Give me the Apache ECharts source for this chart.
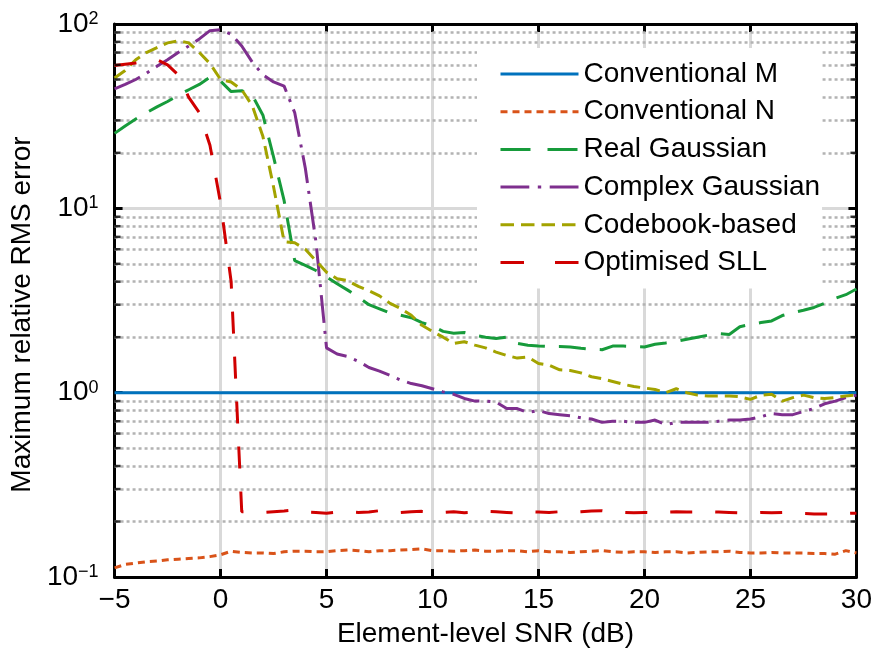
<!DOCTYPE html>
<html><head><meta charset="utf-8">
<script src="https://cdn.jsdelivr.net/npm/echarts@6/dist/echarts.min.js"></script>
<style>html,body{margin:0;padding:0;background:#fff}#c{width:875px;height:653px}</style>
</head><body><div id="c"></div><script>
// ---- data ----
const snr = [-5,-4.5,-4,-3.5,-3,-2.5,-2,-1.5,-1,-0.5,0,0.5,1,1.5,2,2.5,3,3.5,4,4.5,5,5.5,6,6.5,7,7.5,8,8.5,9,9.5,10,10.5,11,11.5,12,12.5,13,13.5,14,14.5,15,15.5,16,16.5,17,17.5,18,18.5,19,19.5,20,20.5,21,21.5,22,22.5,23,23.5,24,24.5,25,25.5,26,26.5,27,27.5,28,28.5,29,29.5,30];
const conventionalMSnr = [-5, 30];
const conventionalM = [1.0, 1.0];
const conventionalN = [0.112,0.117,0.119,0.121,0.122,0.124,0.125,0.126,0.127,0.129,0.132,0.138,0.136,0.135,0.135,0.134,0.137,0.138,0.138,0.137,0.137,0.139,0.140,0.139,0.137,0.139,0.139,0.140,0.141,0.142,0.139,0.139,0.138,0.139,0.140,0.138,0.138,0.139,0.139,0.137,0.139,0.137,0.137,0.136,0.137,0.138,0.139,0.137,0.136,0.137,0.137,0.136,0.137,0.137,0.135,0.136,0.137,0.137,0.138,0.136,0.135,0.135,0.136,0.135,0.135,0.135,0.134,0.134,0.133,0.139,0.135];
const realGaussian = [25.5,28,30.5,33,35.5,38,41,44,47,51.5,49,43,43.5,41,32,19,11,5.2,4.9,4.6,4.25,3.9,3.6,3.3,3.0,2.85,2.7,2.63,2.55,2.4,2.3,2.15,2.1,2.12,2.05,2.0,1.97,2.0,1.85,1.81,1.79,1.78,1.78,1.77,1.74,1.72,1.71,1.79,1.79,1.78,1.77,1.83,1.86,1.9,1.95,2.0,2.05,2.09,2.07,2.28,2.35,2.4,2.45,2.62,2.72,2.8,2.9,3.05,3.25,3.4,3.65];
const complexGaussian = [44.5,47,50,54,59,64,70,76,83,92,93,88,76,62,53,48.5,46,33,16.5,6.6,1.75,1.62,1.57,1.48,1.37,1.31,1.24,1.17,1.12,1.09,1.05,1.01,0.98,0.93,0.9,0.9,0.89,0.82,0.82,0.78,0.8,0.77,0.76,0.75,0.73,0.72,0.69,0.7,0.7,0.69,0.69,0.71,0.67,0.69,0.69,0.69,0.69,0.7,0.71,0.71,0.72,0.74,0.77,0.76,0.76,0.79,0.82,0.87,0.9,0.94,0.97];
const codebookBased = [51,56,64,70,74.5,79,81,79,70,61,50,48.5,44,36,24.5,13.1,6.6,6.5,6.0,5.2,4.5,4.15,4.05,3.77,3.57,3.35,3.05,2.86,2.63,2.32,2.15,2.0,1.85,1.89,1.81,1.75,1.66,1.59,1.54,1.56,1.44,1.41,1.33,1.32,1.28,1.22,1.19,1.15,1.11,1.08,1.06,1.04,1.0,1.05,1.0,0.97,0.96,0.96,0.96,0.95,0.92,0.97,0.98,0.9,0.94,0.97,0.94,0.93,0.94,0.96,0.97];
const optimisedSLL = [59.5,60.5,61.5,63,64,60,53,40,33,22,10.7,4.0,0.226,0.226,0.224,0.226,0.228,0.231,0.225,0.224,0.222,0.225,0.226,0.224,0.225,0.229,0.226,0.224,0.226,0.227,0.225,0.224,0.226,0.223,0.225,0.227,0.226,0.224,0.222,0.226,0.225,0.224,0.226,0.224,0.226,0.228,0.229,0.225,0.224,0.223,0.224,0.223,0.225,0.226,0.225,0.225,0.226,0.225,0.224,0.223,0.222,0.224,0.223,0.224,0.222,0.221,0.220,0.220,0.220,0.221,0.222];
const seriesNames = ['Conventional M','Conventional N','Real Gaussian','Complex Gaussian','Codebook-based','Optimised SLL'];
const xTicks = {min: -5, max: 30, step: 5};
const yRange = {min: 0.1, max: 100};
const minorTickValues = [0.2,0.3,0.4,0.5,0.6,0.7,0.8,0.9,2,3,4,5,6,7,8,9,20,30,40,50,60,70,80,90];

// ---- styles ----
const FONT = 'Liberation Sans, Arial, Helvetica, sans-serif';
const colors = ['#0072BD','#D95319','#179B3B','#7E2F8E','#A3A300','#D00000'];
const plotDash = ['solid',[7,5],[27,14],[28,8,3,8],[13,7],[22,23]];
const legendDash = ['solid',[7,5],[30,17],[28.8,8.5,3.4,8.5],[13.5,7],[23.5,31]];

const pair = (xs, ys) => xs.map((x, i) => [x, ys[i]]);
const axisLine = {show: true, onZero: false, lineStyle: {color: '#000', width: 3}};
const axisTick = {show: true, inside: true, length: 8, lineStyle: {color: '#000', width: 3}};

function lineSeries(i, xs, ys) {
  return {
    name: seriesNames[i], type: 'line', data: pair(xs, ys), showSymbol: false, symbol: 'none',
    lineStyle: {color: colors[i], width: 3, type: plotDash[i], cap: 'butt'}, itemStyle: {color: colors[i]},
    z: 2, animation: false, silent: true
  };
}

const chart = echarts.init(document.getElementById('c'), null, {renderer: 'canvas'});
chart.setOption({
  animation: false,
  backgroundColor: '#fff',
  textStyle: {fontFamily: FONT},
  grid: {left: 113, right: 17, top: 24, bottom: 76},
  legend: {
    orient: 'vertical', left: 477, top: 48, padding: [12, 2, 12, 22],
    backgroundColor: '#fff', itemWidth: 78, itemHeight: 3, itemGap: 9.7,
    selectedMode: false,
    data: seriesNames.map((n, i) => ({
      name: n,
      lineStyle: {color: colors[i], width: 3, type: legendDash[i]},
      itemStyle: {color: 'rgba(0,0,0,0)', borderWidth: 0, opacity: 0}
    })),
    textStyle: {fontSize: 28, fontFamily: FONT, color: '#000', lineHeight: 28}
  },
  xAxis: [{
    type: 'value', min: xTicks.min, max: xTicks.max, interval: xTicks.step, position: 'bottom',
    axisLine, axisTick,
    axisLabel: {margin: 9, fontSize: 28, fontFamily: FONT, color: '#000',
      formatter: v => v < 0 ? '\u2212' + Math.abs(v) : String(v)},
    splitLine: {show: true, lineStyle: {color: '#d9d9d9', width: 3}},
    name: 'Element-level SNR (dB)', nameLocation: 'middle', nameGap: 43,
    nameTextStyle: {fontSize: 28, fontFamily: FONT, color: '#000'}
  }, {
    type: 'value', min: xTicks.min, max: xTicks.max, interval: xTicks.step, position: 'top',
    axisLine, axisTick, axisLabel: {show: false}, splitLine: {show: false}
  }],
  yAxis: [{
    type: 'log', logBase: 10, min: yRange.min, max: yRange.max, interval: 1, position: 'left',
    axisLine, axisTick,
    axisLabel: {
      margin: 16,
      formatter: v => {
        const e = Math.round(Math.log10(v));
        return '{b|10}{s|' + (e < 0 ? '\u2212' + (-e) : e) + '}';
      },
      rich: {
        b: {fontSize: 28, fontFamily: FONT, color: '#000', lineHeight: 28},
        s: {fontSize: 18, fontFamily: FONT, color: '#000', lineHeight: 18, verticalAlign: 'top'}
      }
    },
    splitLine: {show: true, lineStyle: {color: '#d9d9d9', width: 3}},
    name: 'Maximum relative RMS error', nameLocation: 'middle', nameGap: 73,
    nameTextStyle: {fontSize: 28, fontFamily: FONT, color: '#000', padding: [0, 28, 0, 0]}
  }, {
    type: 'log', logBase: 10, min: yRange.min, max: yRange.max, interval: 1, position: 'right',
    axisLine, axisTick, axisLabel: {show: false}, splitLine: {show: false}
  }],
  series: [
    {
      name: 'minorLeft', type: 'scatter', xAxisIndex: 0, yAxisIndex: 0, silent: true, clip: false,
      data: minorTickValues.map(v => [xTicks.min, v]),
      symbol: 'rect', symbolSize: [6, 2.5], symbolOffset: [3, 0], itemStyle: {color: '#000'}, z: 3,
      markLine: {
        silent: true, symbol: ['none', 'none'], label: {show: false}, z: 1, animation: false,
        lineStyle: {color: '#b3b3b3', width: 2.5, type: [3, 3]},
        emphasis: {disabled: true},
        data: minorTickValues.map(v => ({yAxis: v}))
      }
    },
    {
      name: 'minorRight', type: 'scatter', xAxisIndex: 0, yAxisIndex: 0, silent: true, clip: false,
      data: minorTickValues.map(v => [xTicks.max, v]),
      symbol: 'rect', symbolSize: [6, 2.5], symbolOffset: [-3, 0], itemStyle: {color: '#000'}, z: 3
    },
    lineSeries(0, conventionalMSnr, conventionalM),
    lineSeries(1, snr, conventionalN),
    lineSeries(2, snr, realGaussian),
    lineSeries(3, snr, complexGaussian),
    lineSeries(4, snr, codebookBased),
    lineSeries(5, snr, optimisedSLL)
  ]
});
</script></body></html>
